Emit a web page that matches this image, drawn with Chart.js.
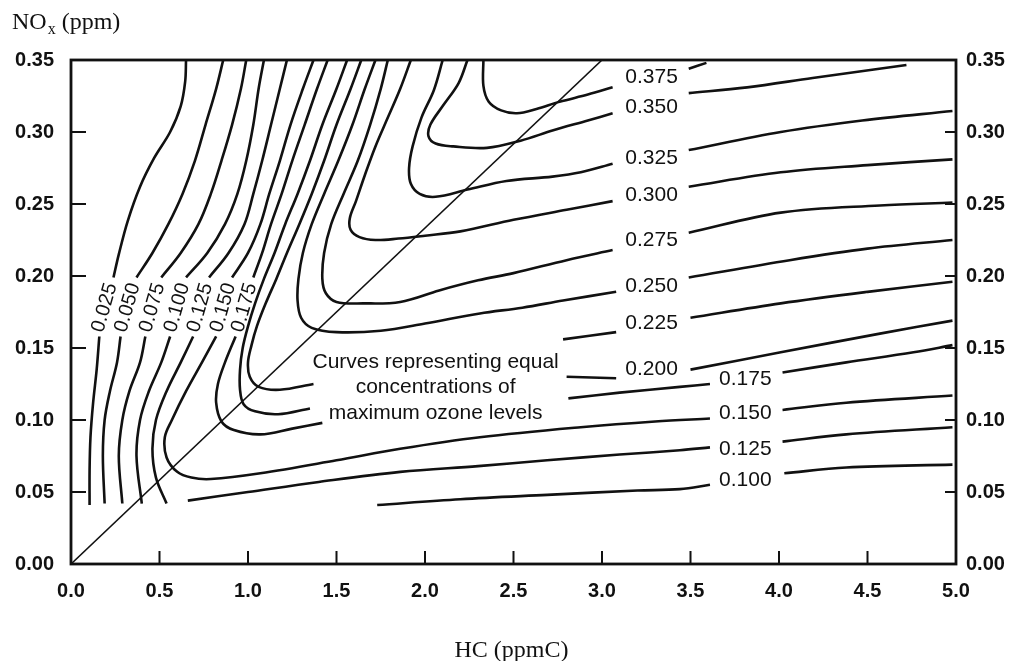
<!DOCTYPE html>
<html>
<head>
<meta charset="utf-8">
<title>Ozone isopleths</title>
<script src="https://cdn.jsdelivr.net/npm/chart.js@4.4.1/dist/chart.umd.min.js"></script>
<style>
  html, body { margin: 0; padding: 0; background: #fff; }
  #wrap { width: 1014px; height: 661px; }
</style>
</head>
<body>
<div id="wrap"><canvas id="ekma" width="1014" height="661"></canvas></div>
<script>
// axis ticks
var hcTicks = [0, 0.5, 1, 1.5, 2, 2.5, 3, 3.5, 4, 4.5, 5];
var noxTicks = [0, 0.05, 0.10, 0.15, 0.20, 0.25, 0.30, 0.35];

// max ozone levels (ppm), one isopleth each
var o3Levels = ['0.025', '0.050', '0.075', '0.100', '0.125', '0.150', '0.175',
                '0.200', '0.225', '0.250', '0.275', '0.300', '0.325', '0.350', '0.375'];

// each isopleth is a list of pieces, points are [HC ppmC, NOx ppm]
var iso025 = [
  [[0.65,0.35],[0.645,0.335],[0.62,0.318],[0.56,0.300],[0.47,0.282],[0.39,0.262],[0.32,0.238],[0.27,0.215],[0.24,0.199]],
  [[0.16,0.158],[0.145,0.135],[0.125,0.112],[0.11,0.088],[0.105,0.065],[0.105,0.041]]
];
var iso050 = [
  [[0.86,0.35],[0.82,0.33],[0.76,0.305],[0.70,0.28],[0.63,0.257],[0.55,0.236],[0.46,0.216],[0.37,0.199]],
  [[0.28,0.158],[0.26,0.14],[0.22,0.12],[0.19,0.10],[0.18,0.075],[0.19,0.042]]
];
var iso075 = [
  [[0.99,0.35],[0.96,0.33],[0.91,0.305],[0.85,0.28],[0.79,0.257],[0.72,0.236],[0.62,0.216],[0.51,0.199]],
  [[0.42,0.158],[0.39,0.14],[0.33,0.12],[0.29,0.10],[0.27,0.075],[0.29,0.042]]
];
var iso100 = [
  [[1.09,0.35],[1.06,0.33],[1.03,0.305],[0.99,0.28],[0.94,0.257],[0.87,0.236],[0.77,0.216],[0.65,0.199]],
  [[0.56,0.158],[0.51,0.14],[0.44,0.12],[0.39,0.10],[0.37,0.075],[0.40,0.042]],
  [[1.73,0.041],[2.2,0.045],[2.69,0.048],[3.2,0.051],[3.44,0.052],[3.61,0.055]],
  [[4.03,0.063],[4.38,0.067],[4.98,0.069]]
];
var iso125 = [
  [[1.22,0.35],[1.18,0.33],[1.13,0.305],[1.08,0.28],[1.03,0.257],[0.98,0.236],[0.89,0.216],[0.78,0.199]],
  [[0.69,0.158],[0.62,0.14],[0.54,0.12],[0.48,0.10],[0.46,0.08],[0.48,0.06],[0.54,0.042]],
  [[0.66,0.044],[1.0,0.050],[1.4,0.057],[1.86,0.064],[2.3,0.068],[2.69,0.072],[3.1,0.076],[3.44,0.079],[3.61,0.081]],
  [[4.02,0.085],[4.38,0.090],[4.98,0.095]]
];
var iso150 = [
  [[1.37,0.35],[1.31,0.33],[1.24,0.305],[1.18,0.28],[1.12,0.257],[1.07,0.236],[1.00,0.216],[0.91,0.199]],
  [[0.82,0.158],[0.74,0.14],[0.65,0.12],[0.57,0.10],[0.53,0.088],[0.54,0.074],[0.60,0.064],[0.68,0.060],[0.79,0.059],
   [1.07,0.063],[1.5,0.072],[1.86,0.080],[2.31,0.088],[2.88,0.095],[3.3,0.099],[3.61,0.101]],
  [[4.02,0.107],[4.38,0.112],[4.98,0.117]]
];
var iso175 = [
  [[1.45,0.35],[1.39,0.33],[1.32,0.305],[1.25,0.28],[1.19,0.257],[1.13,0.236],[1.08,0.216],[1.03,0.199]],
  [[0.93,0.158],[0.87,0.14],[0.83,0.125],[0.82,0.112],[0.85,0.099],[0.92,0.093],[1.07,0.090],[1.25,0.094],[1.42,0.098]],
  [[2.81,0.115],[3.1,0.119],[3.44,0.123],[3.61,0.125]],
  [[4.02,0.133],[4.38,0.140],[4.76,0.147],[4.98,0.152]]
];
var iso200 = [
  [[1.56,0.35],[1.50,0.33],[1.42,0.305],[1.35,0.28],[1.28,0.257],[1.21,0.236],[1.15,0.216],[1.09,0.198],[1.04,0.181],
   [1.00,0.165],[0.97,0.150],[0.955,0.135],[0.955,0.121],[0.975,0.111],[1.04,0.106],[1.17,0.104],[1.35,0.108]],
  [[2.80,0.130],[3.08,0.129]],
  [[3.50,0.135],[4.01,0.147],[4.57,0.160],[4.98,0.169]]
];
var iso225 = [
  [[1.64,0.35],[1.58,0.33],[1.50,0.305],[1.43,0.28],[1.36,0.257],[1.29,0.236],[1.22,0.216],[1.16,0.198],[1.10,0.181],
   [1.05,0.165],[1.02,0.152],[1.00,0.140],[1.01,0.130],[1.06,0.123],[1.18,0.121],[1.37,0.125]],
  [[2.78,0.156],[3.08,0.161]],
  [[3.50,0.171],[4.01,0.181],[4.50,0.189],[4.98,0.196]]
];
var iso250 = [
  [[1.72,0.35],[1.66,0.33],[1.59,0.305],[1.51,0.28],[1.43,0.257],[1.36,0.236],[1.31,0.216],[1.285,0.198],[1.28,0.183],
   [1.30,0.171],[1.36,0.164],[1.50,0.161],[1.75,0.162],[2.0,0.167],[2.31,0.174],[2.55,0.178],[2.78,0.183],[3.08,0.189]],
  [[3.49,0.199],[4.06,0.211],[4.5,0.219],[4.98,0.225]]
];
var iso275 = [
  [[1.79,0.35],[1.75,0.33],[1.69,0.305],[1.62,0.28],[1.54,0.257],[1.47,0.236],[1.43,0.216],[1.42,0.198],[1.44,0.188],
   [1.50,0.182],[1.65,0.181],[1.86,0.182],[2.08,0.190],[2.30,0.197],[2.50,0.202],[2.80,0.211],[3.06,0.218]],
  [[3.49,0.230],[4.01,0.244],[4.57,0.249],[4.98,0.251]]
];
var iso300 = [
  [[1.92,0.35],[1.86,0.33],[1.79,0.31],[1.72,0.29],[1.66,0.27],[1.61,0.252],[1.575,0.240],[1.58,0.232],[1.63,0.227],
   [1.72,0.225],[1.85,0.226],[2.0,0.228],[2.2,0.231],[2.5,0.239],[2.8,0.246],[3.06,0.252]],
  [[3.49,0.262],[4.01,0.272],[4.5,0.277],[4.98,0.281]]
];
var iso325 = [
  [[2.10,0.35],[2.05,0.329],[1.98,0.31],[1.93,0.29],[1.91,0.275],[1.92,0.264],[1.97,0.257],[2.06,0.255],[2.24,0.260],
   [2.46,0.266],[2.72,0.269],[2.88,0.272],[3.06,0.278]],
  [[3.49,0.2875],[4.01,0.300],[4.47,0.308],[4.98,0.3146]]
];
var iso350 = [
  [[2.24,0.35],[2.19,0.334],[2.10,0.318],[2.03,0.305],[2.02,0.297],[2.06,0.292],[2.16,0.290],[2.35,0.289],[2.54,0.294],
   [2.72,0.301],[2.92,0.308],[3.06,0.313]],
  [[3.49,0.327],[3.82,0.331],[4.19,0.3375],[4.72,0.3465]]
];
var iso375 = [
  [[2.33,0.35],[2.33,0.332],[2.36,0.321],[2.43,0.315],[2.52,0.313],[2.63,0.316],[2.76,0.321],[2.92,0.326],[3.06,0.331]],
  [[3.49,0.344],[3.59,0.348]]
];
var isopleths = [iso025, iso050, iso075, iso100, iso125, iso150, iso175,
                 iso200, iso225, iso250, iso275, iso300, iso325, iso350, iso375];

// HC/NOx = 8.6 line
var ratioLine = [[0, 0], [3.0, 0.35]];

// labels on the steep left-hand branches
var slantLevels = ['0.025', '0.050', '0.075', '0.100', '0.125', '0.150', '0.175'];
var slantX = [0.19, 0.32, 0.46, 0.60, 0.73, 0.86, 0.98];
var slantY = [0.178, 0.178, 0.178, 0.178, 0.178, 0.178, 0.178];

// labels on the flat right-hand branches
var flatLevels = ['0.375', '0.350', '0.325', '0.300', '0.275', '0.250', '0.225', '0.200',
                  '0.175', '0.150', '0.125', '0.100'];
var flatX = [3.28, 3.28, 3.28, 3.28, 3.28, 3.28, 3.28, 3.28, 3.81, 3.81, 3.81, 3.81];
var flatY = [0.338, 0.317, 0.282, 0.256, 0.225, 0.193, 0.167, 0.135, 0.128, 0.105, 0.080, 0.058];

var noteLines = ['Curves representing equal', 'concentrations of', 'maximum ozone levels'];
var noteX = 2.06;
var noteY = [0.140, 0.123, 0.105];

// ---------------------------------------------------------------
var INK = '#111';
var SANS = '"Liberation Sans", Arial, Helvetica, sans-serif';
var SERIF = '"Liberation Serif", "Times New Roman", serif';

function toPoints(pieces) {
  var out = [];
  pieces.forEach(function (piece, i) {
    if (i > 0) out.push({ x: piece[0][0], y: null });
    piece.forEach(function (p) { out.push({ x: p[0], y: p[1] }); });
  });
  return out;
}

var datasets = isopleths.map(function (pieces, i) {
  return {
    label: o3Levels[i],
    data: toPoints(pieces),
    showLine: true,
    spanGaps: false,
    borderColor: INK,
    borderWidth: 2.6,
    pointRadius: 0,
    tension: 0.35
  };
});
datasets.push({
  label: 'ratio',
  data: toPoints([ratioLine]),
  showLine: true,
  borderColor: INK,
  borderWidth: 1.6,
  pointRadius: 0,
  tension: 0
});

// frame, inward tick marks, labels and axis titles
var decorations = {
  id: 'decorations',
  beforeDraw: function (chart) {
    var c = chart.ctx;
    c.save();
    c.fillStyle = '#fff';
    c.fillRect(0, 0, chart.width, chart.height);
    c.restore();
  },
  afterDraw: function (chart) {
    var c = chart.ctx, a = chart.chartArea;
    var xs = chart.scales.x, ys = chart.scales.y;
    c.save();
    c.strokeStyle = INK;
    c.fillStyle = INK;

    // frame
    c.lineWidth = 2.8;
    c.strokeRect(a.left, a.top, a.right - a.left, a.bottom - a.top);

    // tick marks pointing into the plot
    c.lineWidth = 2;
    c.beginPath();
    noxTicks.forEach(function (v) {
      if (v === 0 || v === 0.35) return;
      var py = ys.getPixelForValue(v);
      c.moveTo(a.left, py); c.lineTo(a.left + 15, py);
      c.moveTo(a.right, py); c.lineTo(a.right - 11, py);
    });
    hcTicks.forEach(function (v) {
      if (v === 0 || v === 5) return;
      var px = xs.getPixelForValue(v);
      c.moveTo(px, a.bottom); c.lineTo(px, a.bottom - 13);
    });
    c.stroke();

    // isopleth labels, steep ones
    c.font = '20px ' + SANS;
    c.textAlign = 'center';
    c.textBaseline = 'middle';
    slantLevels.forEach(function (t, i) {
      c.save();
      c.translate(xs.getPixelForValue(slantX[i]), ys.getPixelForValue(slantY[i]));
      c.rotate(-74 * Math.PI / 180);
      c.fillText(t, 0, 0);
      c.restore();
    });
    // flat ones
    c.font = '21px ' + SANS;
    flatLevels.forEach(function (t, i) {
      c.fillText(t, xs.getPixelForValue(flatX[i]), ys.getPixelForValue(flatY[i]));
    });

    // note in the middle of the plot
    c.font = '21px ' + SANS;
    noteLines.forEach(function (t, i) {
      c.fillText(t, xs.getPixelForValue(noteX), ys.getPixelForValue(noteY[i]));
    });

    // axis titles
    c.textAlign = 'left';
    c.textBaseline = 'alphabetic';
    c.font = '24px ' + SERIF;
    var x0 = 12, base = 29;
    c.fillText('NO', x0, base);
    x0 += c.measureText('NO').width;
    c.font = '16px ' + SERIF;
    c.fillText('x', x0 + 1, base + 5);
    x0 += c.measureText('x').width + 1;
    c.font = '24px ' + SERIF;
    c.fillText(' (ppm)', x0, base);

    c.textAlign = 'center';
    c.fillText('HC (ppmC)', (a.left + a.right) / 2 - 2, 657);
    c.restore();
  }
};

var tickFont = { family: SANS, size: 20, weight: 'bold' };

new Chart(document.getElementById('ekma'), {
  type: 'scatter',
  data: { datasets: datasets },
  options: {
    responsive: false,
    animation: false,
    events: [],
    layout: { padding: { top: 60, left: 0, right: 0, bottom: 0 } },
    plugins: { legend: { display: false }, tooltip: { enabled: false } },
    scales: {
      x: {
        type: 'linear', min: 0, max: 5,
        afterBuildTicks: function (s) { s.ticks = hcTicks.map(function (v) { return { value: v }; }); },
        afterFit: function (s) { s.height = 97; },
        ticks: { color: INK, font: tickFont, padding: 15, maxRotation: 0,
                 callback: function (v) { return v.toFixed(1); } },
        grid: { drawOnChartArea: false, drawTicks: false },
        border: { display: false }
      },
      y: {
        type: 'linear', min: 0, max: 0.35,
        afterBuildTicks: function (s) { s.ticks = noxTicks.map(function (v) { return { value: v }; }); },
        afterFit: function (s) { s.width = 71; },
        ticks: { color: INK, font: tickFont, padding: 17,
                 callback: function (v) { return v.toFixed(2); } },
        grid: { drawOnChartArea: false, drawTicks: false },
        border: { display: false }
      },
      y2: {
        type: 'linear', position: 'right', min: 0, max: 0.35,
        afterBuildTicks: function (s) { s.ticks = noxTicks.map(function (v) { return { value: v }; }); },
        afterFit: function (s) { s.width = 58; },
        ticks: { color: INK, font: tickFont, padding: 10,
                 callback: function (v) { return v.toFixed(2); } },
        grid: { drawOnChartArea: false, drawTicks: false },
        border: { display: false }
      }
    }
  },
  plugins: [decorations]
});
</script>
</body>
</html>
